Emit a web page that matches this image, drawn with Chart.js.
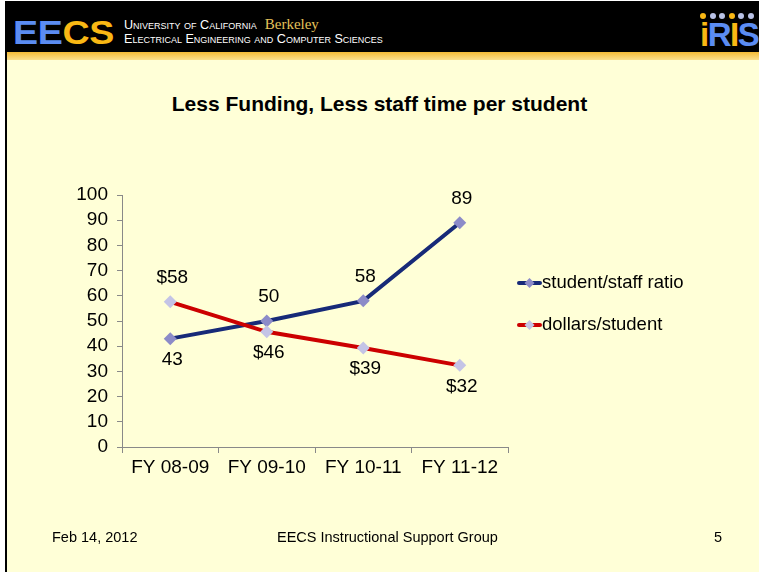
<!DOCTYPE html>
<html>
<head>
<meta charset="utf-8">
<script src="https://cdn.jsdelivr.net/npm/chart.js@4.4.1/dist/chart.umd.min.js"></script>
<style>
  html, body { margin: 0; padding: 0; background: #fff; }
  #slide { position: relative; width: 759px; height: 572px; overflow: hidden; background: #ffffd7; font-family: "Liberation Sans", Arial, sans-serif; }
  #white { position: absolute; left: 0; top: 0; width: 5px; height: 572px; background: #fff; }
  #topwhite { position: absolute; left: 0; top: 0; width: 759px; height: 1px; background: #fff; }
  #border { position: absolute; left: 5px; top: 1px; width: 2px; height: 571px; background: #000; }
  #header { position: absolute; left: 5px; top: 1px; width: 754px; height: 51px; background: #000; }
  #stripe { position: absolute; left: 7px; top: 52px; width: 752px; height: 8px; background: linear-gradient(#f4bb36, #fbe08c); }
  #eecs { position: absolute; left: 13px; top: 15.7px; font: bold 33px "Liberation Sans", Arial, sans-serif; line-height: 33px; transform: scaleX(1.14); transform-origin: 0 0; letter-spacing: -0.3px; }
  #eecs .ee { color: #5b8cf2; }
  #eecs .cs { color: #f9b814; }
  .hl { position: absolute; left: 124px; color: #fff; font-size: 12.6px; line-height: 15px; font-variant: small-caps; white-space: nowrap; }
  #berk { font-family: "Liberation Serif", "Times New Roman", serif; color: #e5c25a; font-variant: normal; font-size: 15px; margin-left: 8px; }
  #iris { position: absolute; left: 700px; top: 13px; width: 60px; height: 40px; }
  #iris .dots { height: 8px; }
  #iris .dots span { display: inline-block; vertical-align: top; width: 6px; height: 6px; border-radius: 3px; margin-right: 3.5px; background: #b9c2e6; }
  #iris .dots span.o { background: #f9b814; }
  #iris .word { font: bold 33px "Liberation Sans", Arial, sans-serif; line-height: 30px; letter-spacing: -1.5px; margin-top: -1px; }
  #title { position: absolute; left: 0; width: 759px; top: 92px; text-align: center; font: bold 21px "Liberation Sans", Arial, sans-serif; color: #000; }
  .foot { position: absolute; top: 529px; font-size: 14.5px; color: #000; white-space: nowrap; }
  #chart { position: absolute; left: 0; top: 0; }
</style>
</head>
<body>
<div id="slide">
  <div id="white"></div>
  <div id="topwhite"></div>
  <div id="header"></div>
  <div id="border"></div>
  <div id="stripe"></div>
  <div id="eecs"><span class="ee">EE</span><span class="cs">CS</span></div>
  <div class="hl" style="top:17px">University of California<span id="berk">Berkeley</span></div>
  <div class="hl" style="top:32px">Electrical Engineering and Computer Sciences</div>
  <div id="iris">
    <div class="dots"><span class="o"></span><span></span><span></span><span class="o"></span><span></span><span></span></div>
    <div class="word"><span style="color:#f9b814">i</span><span style="color:#5b8cf2">R</span><span style="color:#f9b814">I</span><span style="color:#5b8cf2">S</span></div>
  </div>
  <div id="title">Less Funding, Less staff time per student</div>
  <canvas id="chart" width="759" height="572"></canvas>
  <div class="foot" style="left:52px">Feb 14, 2012</div>
  <div class="foot" style="left:277px">EECS Instructional Support Group</div>
  <div class="foot" style="left:714px">5</div>
</div>
<script>
const categories = ['FY 08-09', 'FY 09-10', 'FY 10-11', 'FY 11-12'];
const ratioValues = [43, 50, 58, 89];
const dollarValues = [57.6, 45.7, 39.3, 32.4];
const ratioLabels = ['43', '50', '58', '89'];
const dollarLabels = ['$58', '$46', '$39', '$32'];
const ratioLabelSide = ['below', 'above', 'above', 'above'];
const dollarLabelSide = ['above', 'below', 'below', 'below'];
const yTicks = [0, 10, 20, 30, 40, 50, 60, 70, 80, 90, 100];

const FONT = '"Liberation Sans", Arial, sans-serif';

const labelPlugin = {
    id: 'pointLabels',
    afterDatasetsDraw(chart) {
        const ctx = chart.ctx;
        ctx.save();
        ctx.font = '19px ' + FONT;
        ctx.fillStyle = '#000';
        ctx.textAlign = 'center';
        ctx.textBaseline = 'middle';
        chart.data.datasets.forEach((ds, i) => {
            const meta = chart.getDatasetMeta(i);
            meta.data.forEach((pt, j) => {
                const up = ds.labelSide[j] === 'above';
                ctx.fillText(ds.pointLabels[j], pt.x + 2, up ? pt.y - 24 : pt.y + 21);
            });
        });

        // legend, right of the plot
        const area = chart.chartArea;
        const lx = area.right + 9;
        const items = [chart.data.datasets[1], chart.data.datasets[0]];
        items.forEach((ds, k) => {
            const y = area.top + 88 + k * 42;
            ctx.strokeStyle = ds.borderColor;
            ctx.lineWidth = 4;
            ctx.lineCap = 'round';
            ctx.beginPath();
            ctx.moveTo(lx + 2, y);
            ctx.lineTo(lx + 23, y);
            ctx.stroke();
            ctx.fillStyle = ds.pointBackgroundColor;
            ctx.beginPath();
            ctx.moveTo(lx + 12.5, y - 5);
            ctx.lineTo(lx + 17.5, y);
            ctx.lineTo(lx + 12.5, y + 5);
            ctx.lineTo(lx + 7.5, y);
            ctx.closePath();
            ctx.fill();
            ctx.fillStyle = '#000';
            ctx.font = '18.5px ' + FONT;
            ctx.textAlign = 'left';
            ctx.fillText(ds.label, lx + 25, y);
        });
        ctx.restore();
    }
};

new Chart(document.getElementById('chart'), {
    type: 'line',
    data: {
        labels: categories,
        datasets: [{
            label: 'dollars/student',
            data: dollarValues,
            pointLabels: dollarLabels,
            labelSide: dollarLabelSide,
            borderColor: '#cc0000',
            borderWidth: 4,
            pointBackgroundColor: '#c4c4e6',
            pointBorderColor: '#c4c4e6',
            pointStyle: 'rectRot',
            pointRadius: 6.5,
            pointBorderWidth: 0,
            tension: 0,
            order: 0
        }, {
            label: 'student/staff ratio',
            data: ratioValues,
            pointLabels: ratioLabels,
            labelSide: ratioLabelSide,
            borderColor: '#172a78',
            borderWidth: 4,
            pointBackgroundColor: '#8c8bc8',
            pointBorderColor: '#8c8bc8',
            pointStyle: 'rectRot',
            pointRadius: 6.5,
            pointBorderWidth: 0,
            tension: 0,
            order: 1
        }]
    },
    options: {
        responsive: false,
        animation: false,
        layout: { padding: { left: 70, right: 251, top: 195, bottom: 85 } },
        plugins: {
            legend: { display: false },
            title: { display: false },
            tooltip: { enabled: false }
        },
        scales: {
            x: {
                offset: true,
                grid: { offset: true, drawOnChartArea: false, drawTicks: true, tickLength: 6, color: '#898989' },
                border: { color: '#898989', width: 1 },
                ticks: { color: '#000', font: { size: 19, family: FONT }, padding: 3, maxRotation: 0 },
                afterFit(scale) { scale.height = 40; }
            },
            y: {
                min: 0,
                max: 100,
                afterBuildTicks(scale) { scale.ticks = yTicks.map(v => ({ value: v })); },
                grid: { drawOnChartArea: false, drawTicks: true, tickLength: 5, color: '#898989' },
                border: { color: '#898989', width: 1 },
                ticks: { color: '#000', font: { size: 19, family: FONT }, padding: 9, autoSkip: false },
                afterFit(scale) { scale.width = 52; }
            }
        }
    },
    plugins: [labelPlugin]
});
</script>
</body>
</html>
